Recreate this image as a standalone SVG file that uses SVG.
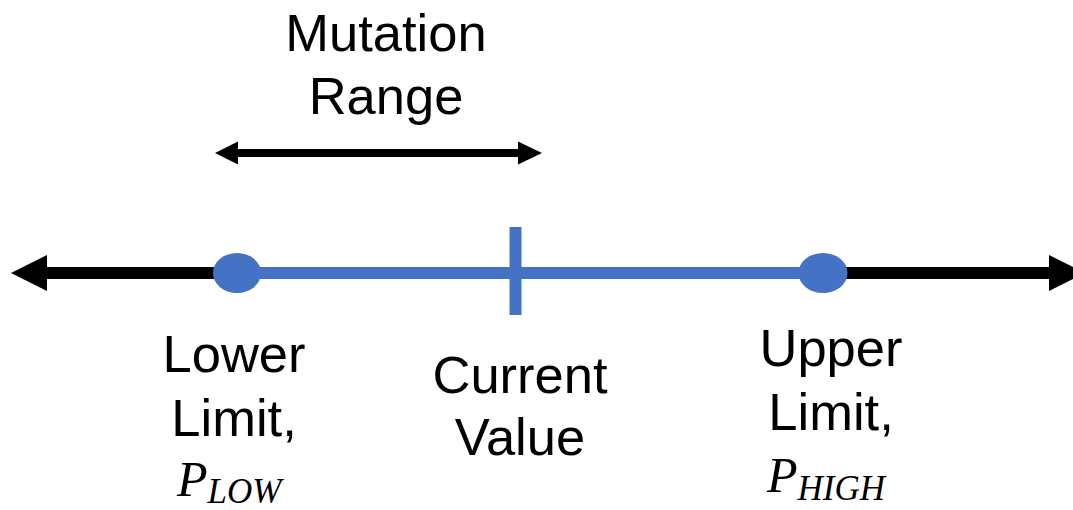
<svg xmlns="http://www.w3.org/2000/svg" width="1073" height="510" viewBox="0 0 1073 510">
<style>
.t{font-family:"Liberation Sans",Arial,sans-serif;font-size:52.5px;fill:#000;text-anchor:middle}
.m{font-family:"Liberation Serif","Times New Roman",serif;font-style:italic;fill:#000}
.blue{stroke:#4472C4;fill:none}
</style>
<rect width="1073" height="510" fill="#fff"/>
<g id="connectors">
  <line x1="40" y1="273" x2="1055" y2="273" stroke="#000" stroke-width="12"/>
  <polygon points="11,273 47,255 47,291" fill="#000"/>
  <polygon points="1085,273 1049,255 1049,291" fill="#000"/>
  <line x1="237" y1="273" x2="823" y2="273" class="blue" stroke-width="12"/>
  <line x1="236" y1="153" x2="522" y2="153" stroke="#000" stroke-width="8"/>
  <polygon points="215,153 238,141.5 238,164.5" fill="#000"/>
  <polygon points="542,153 518,141.5 518,164.5" fill="#000"/>
</g>
<g id="lower-point"><ellipse cx="237" cy="273" rx="24" ry="20" fill="#4472C4"/></g>
<g id="upper-point"><ellipse cx="823" cy="273" rx="24.5" ry="20" fill="#4472C4"/></g>
<g id="current-tick"><line x1="515.5" y1="227" x2="515.5" y2="315" class="blue" stroke-width="12"/></g>
<g id="mutation-label">
  <text class="t" x="386" y="51">Mutation</text>
  <text class="t" x="386" y="114">Range</text>
</g>
<g id="lower-label">
  <text class="t" x="234" y="372">Lower</text>
  <text class="t" x="234" y="436">Limit,</text>
  <text x="177" y="496" class="m"><tspan font-size="50">P</tspan><tspan font-size="35" dy="7">LOW</tspan></text>
</g>
<g id="current-label">
  <text class="t" x="520" y="393">Current</text>
  <text class="t" x="520" y="455">Value</text>
</g>
<g id="upper-label">
  <text class="t" x="831" y="366">Upper</text>
  <text class="t" x="831" y="430">Limit,</text>
  <text x="767" y="492" class="m"><tspan font-size="50">P</tspan><tspan font-size="35" dy="8">HIGH</tspan></text>
</g>
</svg>
